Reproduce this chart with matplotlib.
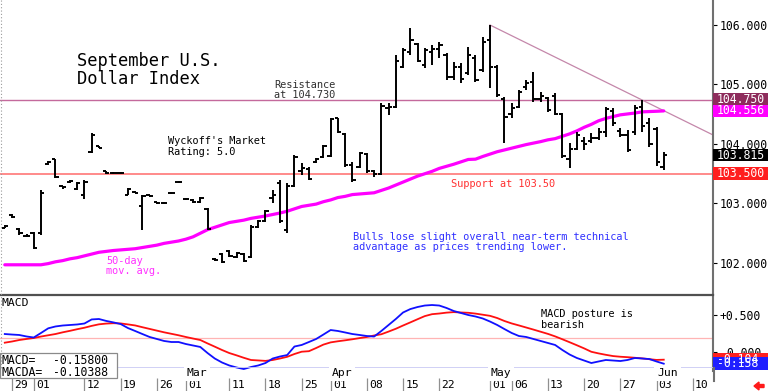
import matplotlib
matplotlib.use('Agg')
import matplotlib.pyplot as plt
import numpy as np
import pandas as pd
from matplotlib.lines import Line2D
from matplotlib.patches import Rectangle, FancyArrow
import matplotlib.transforms as mtrans

# ---------------- data ----------------
all_days = pd.bdate_range('2024-01-26', '2024-06-14')
all_days = all_days[all_days != pd.Timestamp('2024-03-29')]   # Good Friday, no session
dates = all_days[all_days <= pd.Timestamp('2024-06-04')]

highs = [102.64, 102.82, 102.59, 102.48, 102.52, 103.23, 103.71, 103.75, 103.30, 103.40,
         103.36, 103.40, 104.18, 103.97, 103.55, 103.53, 103.53, 103.26, 103.21, 103.14,
         103.15, 103.03, 103.03, 103.20, 103.38, 103.10, 103.08, 103.11, 102.92, 102.08,
         102.17, 102.22, 102.18, 102.17, 102.64, 102.72, 102.89, 103.23, 103.39, 103.34,
         103.82, 103.68, 103.61, 103.76, 103.98,
         104.44, 104.44, 104.18, 103.70, 103.87, 103.85, 103.56, 104.69, 104.69, 105.50,
         105.61, 105.95, 105.70, 105.61, 105.66, 105.71, 105.53, 105.38, 105.36, 105.63,
         105.50, 105.80, 106.00, 105.33, 104.79, 104.69, 104.91, 105.08, 105.21, 104.87,
         104.79, 104.86, 104.52, 104.02, 104.20, 104.12, 104.18, 104.27, 104.62, 104.61,
         104.27, 104.24, 104.66, 104.74, 104.44, 104.29, 103.87]
lows = [102.58, 102.76, 102.47, 102.43, 102.24, 102.47, 103.65, 103.43, 103.25, 103.35,
        103.23, 103.08, 103.85, 103.93, 103.50, 103.49, 103.49, 103.14, 103.17, 102.55,
        103.11, 102.99, 102.99, 103.16, 103.34, 103.06, 103.00, 103.00, 102.55, 102.04,
        102.00, 102.10, 102.08, 102.02, 102.08, 102.59, 102.69, 103.01, 102.67, 102.50,
        103.28, 103.48, 103.39, 103.68, 103.76,
        103.78, 104.18, 103.61, 103.36, 103.60, 103.51, 103.45, 103.48, 104.49, 104.61,
        105.28, 105.50, 105.38, 105.28, 105.33, 105.45, 105.08, 105.08, 105.03, 105.16,
        105.04, 105.21, 104.94, 104.79, 104.02, 104.44, 104.61, 104.91, 104.71, 104.71,
        104.54, 104.49, 103.76, 103.60, 103.90, 103.90, 104.02, 104.07, 104.12, 104.30,
        104.12, 103.87, 104.15, 104.20, 103.95, 103.63, 103.57]
opens = [102.59, 102.80, 102.57, 102.46, 102.50, 102.50, 103.66, 103.74, 103.29, 103.36,
         103.25, 103.15, 103.87, 103.96, 103.54, 103.52, 103.51, 103.15, 103.20, 102.95,
         103.14, 103.02, 103.00, 103.18, 103.36, 103.08, 103.06, 103.02, 102.90, 102.07,
         102.15, 102.20, 102.10, 102.15, 102.10, 102.60, 102.70, 103.10, 103.35, 102.55,
         103.30, 103.55, 103.58, 103.70, 103.78,
         103.80, 104.43, 104.17, 103.65, 103.62, 103.84, 103.54, 103.50, 104.60, 104.62,
         105.30, 105.55, 105.68, 105.32, 105.55, 105.60, 105.50, 105.12, 105.30, 105.20,
         105.45, 105.25, 105.75, 105.30, 104.75, 104.50, 104.62, 104.95, 105.05, 104.75,
         104.78, 104.80, 104.50, 103.75, 103.92, 104.05, 104.05, 104.10, 104.20, 104.55,
         104.22, 104.15, 104.20, 104.62, 104.35, 104.25, 103.62]
closes = [102.62, 102.78, 102.50, 102.45, 102.26, 103.18, 103.69, 103.45, 103.27, 103.38,
          103.34, 103.36, 104.15, 103.94, 103.52, 103.51, 103.51, 103.25, 103.18, 103.12,
          103.13, 103.01, 103.01, 103.18, 103.36, 103.08, 103.02, 103.10, 102.57, 102.05,
          102.02, 102.12, 102.16, 102.04, 102.60, 102.70, 102.87, 103.15, 102.70, 103.30,
          103.78, 103.60, 103.42, 103.74, 103.96,
          104.42, 104.20, 103.65, 103.40, 103.85, 103.55, 103.50, 104.64, 104.62, 105.40,
          105.58, 105.75, 105.40, 105.58, 105.60, 105.66, 105.12, 105.30, 105.10, 105.50,
          105.08, 105.72, 105.30, 104.82, 104.45, 104.60, 104.88, 105.02, 104.75, 104.80,
          104.57, 104.50, 103.80, 103.92, 104.15, 104.00, 104.10, 104.20, 104.58, 104.35,
          104.15, 103.90, 104.60, 104.30, 104.00, 103.70, 103.815]

ma50 = [101.97, 101.97, 101.97, 101.97, 101.97, 101.97, 101.99, 102.02, 102.04, 102.07,
        102.09, 102.12, 102.15, 102.18, 102.195, 102.21, 102.22, 102.23, 102.24, 102.26,
        102.28, 102.30, 102.33, 102.35, 102.37, 102.40, 102.44, 102.50, 102.56, 102.60,
        102.64, 102.68, 102.70, 102.72, 102.75, 102.77, 102.79, 102.815, 102.84, 102.87,
        102.91, 102.95, 102.97, 102.99, 103.03,
        103.06, 103.10, 103.12, 103.15, 103.16, 103.17, 103.18, 103.22, 103.26, 103.31,
        103.36, 103.41, 103.46, 103.50, 103.54, 103.59, 103.625, 103.66, 103.70, 103.74,
        103.745, 103.79, 103.83, 103.87, 103.90, 103.93, 103.96, 103.99, 104.015, 104.04,
        104.07, 104.09, 104.13, 104.17, 104.22, 104.28, 104.33, 104.39, 104.43, 104.46,
        104.49, 104.505, 104.52, 104.54, 104.545, 104.55, 104.556]

macd = [0.243, 0.236, 0.230, 0.210, 0.196, 0.257, 0.320, 0.345, 0.358, 0.365,
        0.372, 0.385, 0.440, 0.446, 0.420, 0.400, 0.378, 0.324, 0.284, 0.243,
        0.203, 0.176, 0.149, 0.135, 0.135, 0.108, 0.088, 0.068, -0.014, -0.088,
        -0.142, -0.182, -0.209, -0.230, -0.203, -0.182, -0.149, -0.088, -0.061, -0.041,
        0.074, 0.095, 0.135, 0.176, 0.236,
        0.297, 0.284, 0.264, 0.243, 0.230, 0.216, 0.209, 0.284, 0.365, 0.446,
        0.534, 0.580, 0.608, 0.628, 0.635, 0.628, 0.595, 0.554, 0.527, 0.500,
        0.480, 0.453, 0.412, 0.365, 0.310, 0.257, 0.216, 0.203, 0.176, 0.149,
        0.122, 0.095, 0.027, -0.034, -0.081, -0.115, -0.149, -0.128, -0.108, -0.115,
        -0.122, -0.108, -0.081, -0.088, -0.095, -0.128, -0.158]
macda = [0.126, 0.142, 0.162, 0.176, 0.189, 0.209, 0.226, 0.243, 0.266, 0.286,
         0.308, 0.328, 0.353, 0.374, 0.384, 0.389, 0.386, 0.373, 0.359, 0.335,
         0.312, 0.289, 0.266, 0.246, 0.226, 0.203, 0.182, 0.162, 0.116, 0.072,
         0.027, -0.014, -0.045, -0.078, -0.108, -0.114, -0.120, -0.108, -0.088, -0.065,
         -0.027, 0.004, 0.011, 0.054, 0.100,
         0.130, 0.145, 0.158, 0.172, 0.188, 0.203, 0.223, 0.240, 0.276, 0.314,
         0.358, 0.400, 0.443, 0.485, 0.511, 0.520, 0.532, 0.539, 0.534, 0.530,
         0.519, 0.504, 0.489, 0.459, 0.419, 0.386, 0.359, 0.331, 0.303, 0.274,
         0.245, 0.211, 0.172, 0.132, 0.091, 0.049, 0.003, -0.019, -0.038, -0.055,
         -0.064, -0.070, -0.078, -0.086, -0.097, -0.107, -0.10388]

tick_dates = ['2024-01-29', '2024-02-01', '2024-02-12', '2024-02-19', '2024-02-26',
              '2024-03-01', '2024-03-11', '2024-03-18', '2024-03-25', '2024-04-01',
              '2024-04-08', '2024-04-15', '2024-04-22', '2024-05-01', '2024-05-06',
              '2024-05-13', '2024-05-20', '2024-05-27', '2024-06-03', '2024-06-10']
tick_labels = ['29', '01', '12', '19', '26', '01', '11', '18', '25', '01',
               '08', '15', '22', '01', '06', '13', '20', '27', '03', '10']
month_dates = ['2024-03-01', '2024-04-01', '2024-05-01', '2024-06-03']
month_labels = ['Mar', 'Apr', 'May', 'Jun']

price_ticks = [102, 103, 104, 105, 106]
macd_ticks = [0.0, 0.5]
macd_tick_labels = [' 0.000', '+0.500']

resistance = 104.74
support = 103.50
trend_start_date = '2024-05-01'
trend_start_value = 106.00
trend_touch_date = '2024-05-30'
trend_touch_value = 104.74

value_boxes = [(104.750, '104.750', '#8e2c5c'), (104.556, '104.556', '#ff00ff'),
               (103.815, '103.815', '#000000'), (103.500, '103.500', '#ff1e1e')]

# ---------------- layout helpers ----------------
W, H = 768, 391
def fx(x):
    return x / W
def fy(y):
    return 1 - y / H

pos = {d: i for i, d in enumerate(all_days)}
xi = np.arange(len(dates))

mono = 'DejaVu Sans Mono'
plt.rcParams['font.family'] = mono

fig = plt.figure(figsize=(W / 100, H / 100), dpi=100)
fig.patch.set_facecolor('white')

XL = (-0.66, 97.8)
ax = fig.add_axes([0, fy(294), fx(713), 294 / H])
axm = fig.add_axes([0, fy(371), fx(713), (371 - 295) / H])
for a in (ax, axm):
    a.set_xlim(*XL)
    for s in ('top', 'left', 'bottom'):
        a.spines[s].set_visible(False)
    a.spines['right'].set_color('#707070')
    a.spines['right'].set_linewidth(1.5)
    a.set_xticks([])
    a.yaxis.tick_right()
    a.tick_params(axis='y', length=3, width=0.8, pad=2, labelsize=8.3,
                  colors='black')
    a.set_facecolor('none')

ax.set_ylim(101.479, 106.42)
ax.set_yticks(price_ticks)
ax.set_yticklabels([f'{v:.3f}' for v in price_ticks])

# reference lines
ax.axhline(resistance, color='#c46a9c', lw=1.0, zorder=1)
ax.axhline(support, color='#ff8a8a', lw=1.4, zorder=1)
x0 = pos[pd.Timestamp(trend_start_date)]
x1 = pos[pd.Timestamp(trend_touch_date)]
slope = (trend_touch_value - trend_start_value) / (x1 - x0)
ax.plot([x0, XL[1]], [trend_start_value, trend_start_value + slope * (XL[1] - x0)],
        color='#c487aa', lw=0.9, zorder=1, clip_on=True)

# moving average
ax.plot(xi, ma50, color='#ff00ff', lw=2.3, zorder=2, solid_capstyle='round')

# OHLC bars
hw = 0.45
ax.vlines(xi, lows, highs, color='black', lw=1.4, zorder=3)
ax.hlines(opens, xi - hw, xi, color='black', lw=1.4, zorder=3)
ax.hlines(closes, xi, xi + hw, color='black', lw=1.4, zorder=3)

# value boxes on the right axis
btr = mtrans.blended_transform_factory(ax.transAxes, ax.transData)
bh = 12.5 / 59.5
for v, lab, col in value_boxes:
    ax.add_patch(Rectangle((1.0, v - bh / 2), 56 / 713, bh, transform=btr,
                           clip_on=False, facecolor=col, edgecolor='none', zorder=5))
    ax.text(1.0 + 4 / 713, v, lab, transform=btr, ha='left', va='center',
            color='white', fontsize=8.3, clip_on=False, zorder=6)

# MACD panel  (0 at pixel 352, 74 px per unit, panel 295..371)
axm.set_ylim(-19 / 74, 57 / 74)
axm.set_yticks(macd_ticks)
axm.set_yticklabels(macd_tick_labels)
axm.axhline(0.19, color='#ffb4b4', lw=0.9, zorder=1)
axm.plot(xi, macda, color='#ff1010', lw=1.3, zorder=3)
axm.plot(xi, macd, color='#1010ff', lw=1.3, zorder=4)
mtr = mtrans.blended_transform_factory(axm.transAxes, axm.transData)
mh = 13 / 74
for v, lab, col in [(macda[-1], f'{macda[-1]:.3f}', '#ff2020'),
                    (macd[-1], f'{macd[-1]:.3f}', '#2020ff')]:
    axm.add_patch(Rectangle((1.0, v - mh / 2), 56 / 713, mh, transform=mtr,
                            clip_on=False, facecolor=col, edgecolor='none', zorder=5))
    axm.text(1.0 + 4 / 713, v, lab, transform=mtr, ha='left', va='center',
             color='white', fontsize=8.3, clip_on=False, zorder=6)

# date rows
axd = fig.add_axes([0, 0, fx(713), 24 / H])
axd.set_xlim(*XL)
axd.set_ylim(0, 24)
axd.axis('off')
axd.axhline(23.8, color='#c8c8f4', lw=1.2, zorder=1)
for d, lab in zip(tick_dates, tick_labels):
    p = pos[pd.Timestamp(d)]
    axd.vlines(p, 0, 13.5, color='#909090', lw=0.9)
    axd.text(p + 0.3, 2.6, lab, ha='left', va='baseline', fontsize=8.2, color='black')
for d, lab in zip(month_dates, month_labels):
    p = pos[pd.Timestamp(d)]
    axd.text(p + 0.1, 14.6, lab, ha='left', va='baseline', fontsize=8.2, color='black',
             bbox=dict(boxstyle='square,pad=0.25', fc='white', ec='none'))

# separators / frame
fig.add_artist(Line2D([0, fx(713)], [fy(294.5), fy(294.5)], color='#505050', lw=1.6))
fig.add_artist(Line2D([fx(1), fx(1)], [fy(0), fy(368)], color='#9a9a9a', lw=0.8,
                      ls=(0, (1, 2))))
fig.add_artist(Line2D([fx(713.5), fx(713.5)], [fy(368), fy(381)], color='#707070', lw=1.5))

# MACD legend box
fig.add_artist(Rectangle((0, fy(378)), fx(117), (378 - 353) / H, facecolor='white',
                         edgecolor='#8a8a8a', lw=0.9, transform=fig.transFigure))
fig.text(fx(1), fy(364.5), 'MACD=', fontsize=8.3, va='baseline')
fig.text(fx(53), fy(364.5), f'{macd[-1]:.5f}', fontsize=8.3, va='baseline')
fig.text(fx(1), fy(376.0), 'MACDA=', fontsize=8.3, va='baseline')
fig.text(fx(53), fy(376.0), f'{macda[-1]:.5f}', fontsize=8.3, va='baseline')
fig.text(fx(2), fy(306.5), 'MACD', fontsize=8.2, va='baseline')

# annotations
def txt(x, y, s, color='black', size=7.4):
    fig.text(fx(x), fy(y), s, color=color, fontsize=size, va='baseline', ha='left')

txt(77, 66.5, 'September U.S.', size=12.3)
txt(77, 83.5, 'Dollar Index', size=12.3)
txt(274, 87.5, 'Resistance', color='#303030')
txt(274, 97.5, 'at 104.730', color='#303030')
txt(168, 144.5, "Wyckoff's Market")
txt(168, 155, 'Rating: 5.0')
txt(451, 187, 'Support at 103.50', color='#ff3030')
txt(353, 239.5, 'Bulls lose slight overall near-term technical', color='#3030ff')
txt(353, 250.5, 'advantage as prices trending lower.', color='#3030ff')
txt(106, 263.5, '50-day', color='#ff30ff')
txt(106, 274.5, 'mov. avg.', color='#ff30ff')
txt(541, 317, 'MACD posture is')
txt(541, 327.5, 'bearish')

# small red arrow bottom right
fig.add_artist(FancyArrow(fx(764), fy(386), -fx(10), 0,
               width=3 / H, head_width=8 / H, head_length=fx(5),
               length_includes_head=True, color='#ff1a1a', transform=fig.transFigure))

fig.savefig('out.png', dpi=100, facecolor='white')
